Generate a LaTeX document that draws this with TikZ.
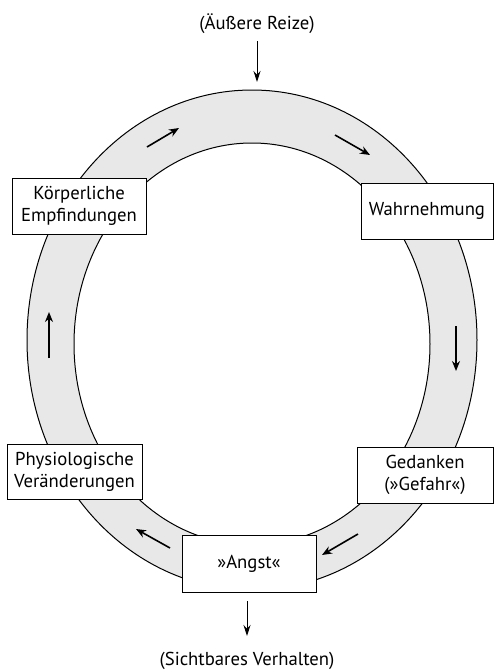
\documentclass[tikz,border=0pt]{standalone}
\usepackage{fontspec}
\setmainfont{PT Sans}
\usetikzlibrary{arrows.meta}
\begin{document}
\begin{tikzpicture}[x=1pt,y=-1pt,
  box/.style={draw=black, line width=0.9pt, fill=white, align=center, inner sep=0pt,
    font=\fontsize{18.7}{22}\selectfont},
  lbl/.style={font=\fontsize{18.7}{22}\selectfont, inner sep=1pt},
  flow/.style={line width=1.6pt, -{Stealth[length=10pt,width=8pt]}},
  feed/.style={line width=1pt, -{Stealth[length=11pt,width=7pt]}}]
\useasboundingbox (0,0) rectangle (494,670);
% ring
\fill[black!9, even odd rule] (252,340) ellipse [x radius=225, y radius=250]
  (252,344) ellipse [x radius=178, y radius=201];
\draw[line width=1pt] (252,340) ellipse [x radius=225, y radius=250];
\draw[line width=1pt] (252,344) ellipse [x radius=178, y radius=201];
% boxes
\node[box, minimum width=134pt, minimum height=56pt] (koerper) at (79,206) {Körperliche\\Empfindungen};
\node[box, minimum width=132pt, minimum height=56pt] (wahr) at (427,211) {Wahrnehmung};
\node[box, minimum width=135pt, minimum height=55pt] (physio) at (74.5,471.5) {Physiologische\\Veränderungen};
\node[box, minimum width=136pt, minimum height=56pt] (gedanken) at (425,475) {Gedanken\\(»Gefahr«)};
\node[box, minimum width=134pt, minimum height=57pt] (angst) at (249,563.5) {»Angst«};
% outer labels
\node[lbl] (reize) at (257,24) {(Äußere Reize)};
\node[lbl] (verhalten) at (247,661) {(Sichtbares Verhalten)};
\coordinate (ringtop) at (257,82);
\coordinate (verhtop) at (247,636);
\coordinate (angstout) at (247,601);
\draw[feed] (reize.south |- 0,41) -- (ringtop);
\draw[feed] (angstout) -- (verhtop);
% ring arrows
\coordinate (a1s) at (147,147); \coordinate (a1e) at (179,128);
\coordinate (a2s) at (335,135); \coordinate (a2e) at (370,155);
\coordinate (a3s) at (456,326); \coordinate (a3e) at (456,371);
\coordinate (a4s) at (358,534); \coordinate (a4e) at (322,555);
\coordinate (a5s) at (170,548); \coordinate (a5e) at (136,529);
\coordinate (a6s) at (49,358); \coordinate (a6e) at (49,312);
\draw[flow] (a1s) -- (a1e);
\draw[flow] (a2s) -- (a2e);
\draw[flow] (a3s) -- (a3e);
\draw[flow] (a4s) -- (a4e);
\draw[flow] (a5s) -- (a5e);
\draw[flow] (a6s) -- (a6e);
\end{tikzpicture}
\end{document}
